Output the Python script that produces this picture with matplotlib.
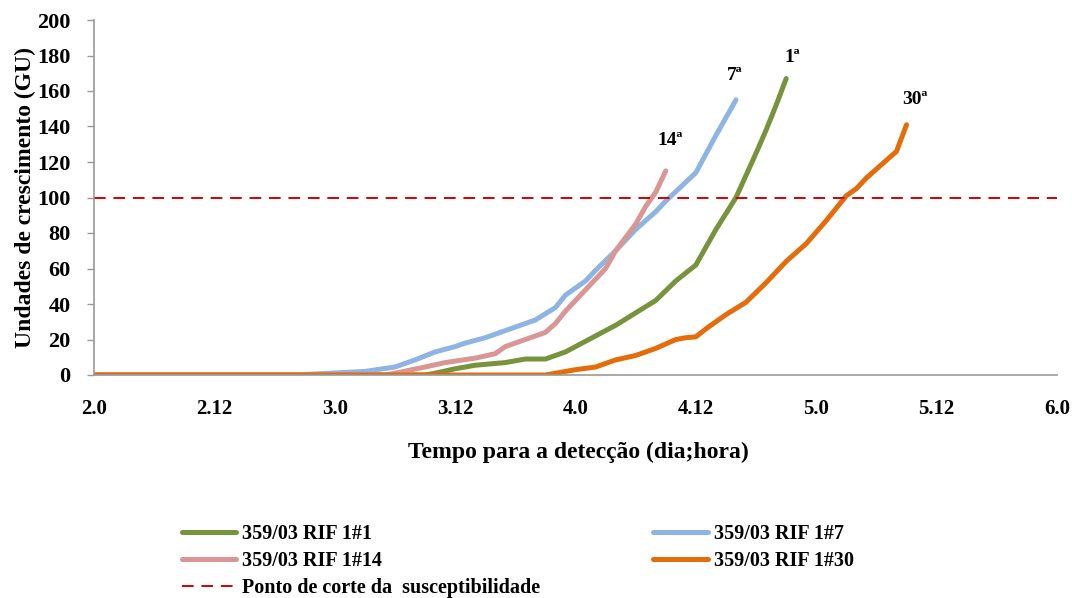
import matplotlib
matplotlib.use('Agg')
import matplotlib.pyplot as plt

plt.rcParams['font.family'] = ['Liberation Serif', 'DejaVu Serif']
plt.rcParams['font.weight'] = 'bold'

# tempo em horas a partir do dia 2.0
tick_pos = [0, 12, 24, 36, 48, 60, 72, 84, 96]
tick_lab = ['2.0', '2.12', '3.0', '3.12', '4.0', '4.12', '5.0', '5.12', '6.0']

h1 = [0, 33, 34, 36, 38, 41, 43, 45, 47, 49, 50, 52, 54, 56, 58, 60, 62, 64, 66, 67, 68, 69]
gu1 = [0, 0, 1, 3.5, 5.5, 7, 9, 9, 13, 19, 22, 28, 35, 42, 53, 62, 82, 100, 125, 138, 152, 167]

h7 = [0, 20, 27, 30, 32, 34, 36, 37, 39, 41, 42, 44, 46, 47, 49, 50, 52, 54, 56, 57, 60, 62, 64]
gu7 = [0, 0, 2, 4.5, 8.5, 13, 16, 18, 21, 25, 27, 31, 38, 45, 53, 59, 70, 82, 92, 98, 114, 135, 155]

h14 = [0, 29, 30, 33, 35, 38, 40, 41, 43, 45, 46, 47, 49, 51, 52, 54, 55, 56, 57]
gu14 = [0, 0, 1, 4.5, 7, 9.5, 12, 16, 20, 24, 29, 36, 48, 60, 70, 85, 95, 103, 115]

h30 = [0, 45, 47, 48, 50, 52, 54, 56, 58, 59, 60, 61, 63, 65, 67, 69, 70, 71, 73, 75, 76, 77, 78, 80, 81]
gu30 = [0, 0, 2, 3, 4.5, 8.5, 11, 15, 20, 21, 21.5, 26, 34, 41, 52, 64, 69, 74, 87, 101, 105, 111, 116, 126, 141]

corte = 100

rotulos = ['1ª', '7ª', '14ª', '30ª']
rot_x = [69.6, 63.9, 57.4, 81.8]
rot_y = [179, 169, 132, 155]

fig = plt.figure(figsize=(10.72, 5.98), dpi=100)
ax = fig.add_axes([94/1072, 1-375/598, (1057-94)/1072, (375-20)/598])

lw = 3.6
l1, = ax.plot(h1, gu1, color='#77933C', lw=lw, solid_capstyle='round', label='359/03 RIF 1#1')
l7, = ax.plot(h7, gu7, color='#8EB4E3', lw=lw, solid_capstyle='round', label='359/03 RIF 1#7')
l14, = ax.plot(h14, gu14, color='#D99694', lw=lw, solid_capstyle='round', label='359/03 RIF 1#14')
l30, = ax.plot(h30, gu30, color='#E46C0A', lw=lw, solid_capstyle='round', label='359/03 RIF 1#30')
lc = ax.axhline(corte, color='#D40000', lw=1.4, dashes=(6, 4), label='Ponto de corte da  susceptibilidade')

for t, x, y in zip(rotulos, rot_x, rot_y):
    ax.text(x, y, t, ha='center', va='center', fontsize=14, fontweight='bold')

ax.set_xlim(0, 96)
ax.set_ylim(0, 200)
ax.set_xticks(tick_pos)
ax.set_xticklabels(tick_lab)
ax.set_yticks(range(0, 201, 20))
ax.tick_params(axis='x', length=0, pad=17, labelsize=15)
ax.tick_params(axis='y', length=5, width=1, color='#999999', pad=12, labelsize=16)
for s in ['top', 'right']:
    ax.spines[s].set_visible(False)
for s in ['left', 'bottom']:
    ax.spines[s].set_color('#999999')
    ax.spines[s].set_linewidth(1.2)

ax.set_ylabel('Undades de crescimento (GU)', fontsize=17, fontweight='bold', labelpad=1)
fig.text(578/1072, 1-452/598, 'Tempo para a detecção (dia;hora)', fontsize=17,
         fontweight='bold', ha='center', va='center')

fig.legend([l1, l14, lc, l7, l30],
           [l1.get_label(), l14.get_label(), lc.get_label(), l7.get_label(), l30.get_label()],
           ncol=2, loc='upper left', bbox_to_anchor=(172/1072, 1-514/598), frameon=False,
           fontsize=14.5, handlelength=2.7, handletextpad=0.3, columnspacing=5.6,
           labelspacing=0.34, borderpad=0)

fig.savefig('out.png', dpi=100)
